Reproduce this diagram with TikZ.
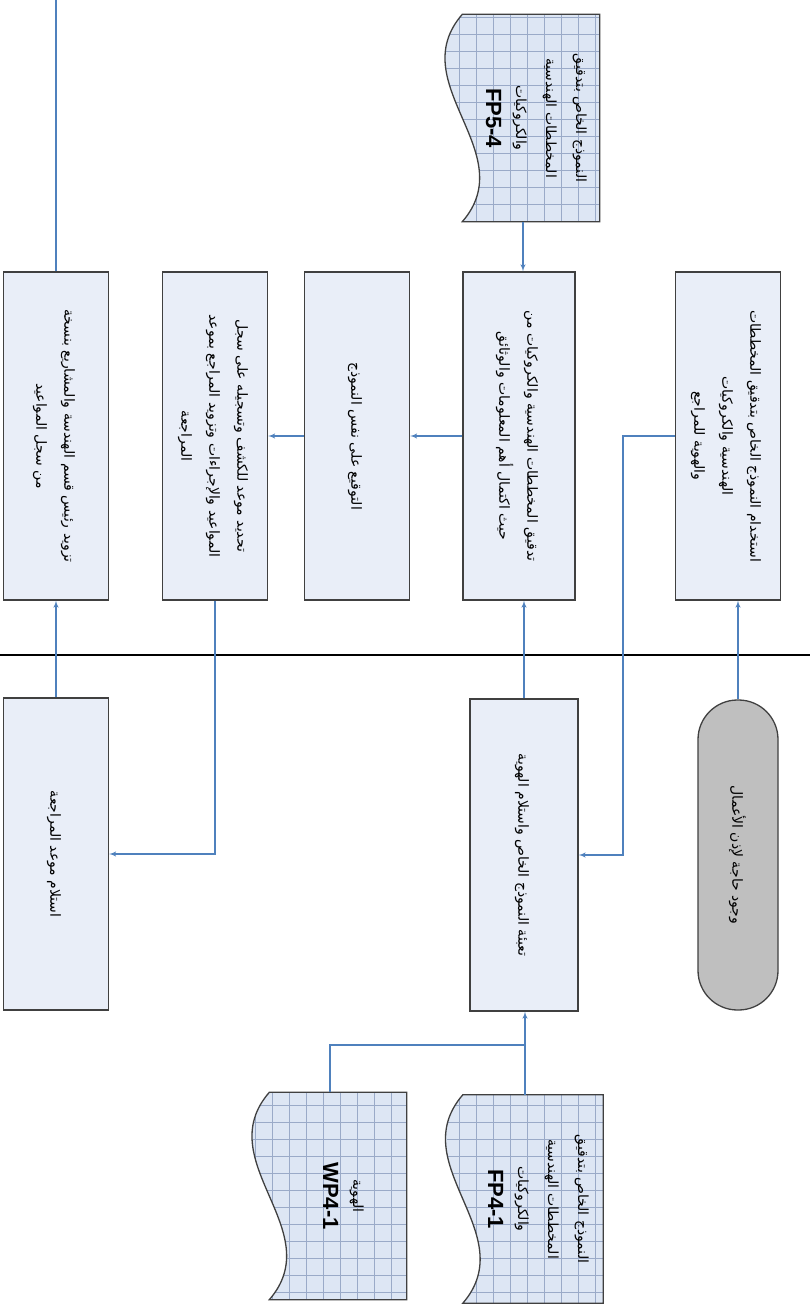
\documentclass[tikz,border=0pt]{standalone}
\usepackage{fontspec}
\usepackage{graphicx}
\usepackage{tikz}
\usetikzlibrary{arrows,calc}
\newfontfamily\arabicfont[Script=Arabic]{DejaVu Sans}
\newfontfamily\codefont{Liberation Sans}
\TeXXeTstate=1
\definecolor{linkblue}{HTML}{4F81BD}
\definecolor{boxfill}{HTML}{E9EEF8}
\definecolor{boxline}{HTML}{404040}
\definecolor{docfill}{HTML}{DDE6F4}
\definecolor{docgrid}{HTML}{9AAAC8}
\definecolor{termfill}{HTML}{BFBFBF}
\newcommand\ar[1]{\beginR #1\endR}
\newcommand\vlines[1]{\rotatebox{-90}{\begin{tabular}{@{}c@{}}#1\end{tabular}}}
\newcommand\code[1]{{\codefont\bfseries\fontsize{22}{26}\selectfont #1}}
% outline of a document symbol, wavy edge on the left
\newcommand\docpath[1]{([xshift=16pt]#1.north west) -- (#1.north east) -- (#1.south east) -- ([xshift=16pt]#1.south west) .. controls ([xshift=76pt]$(#1.south west)!0.333!(#1.north west)$) and ([xshift=-44pt]$(#1.south west)!0.667!(#1.north west)$) .. ([xshift=16pt]#1.north west) -- cycle}
\newcommand\docshape[1]{%
  \fill[docfill] \docpath{#1};
  \begin{scope}
    \clip \docpath{#1};
    \draw[docgrid,line width=0.5pt,step=17pt] (#1.south west) grid (#1.north east);
  \end{scope}
  \draw[boxline,line width=1.3pt] \docpath{#1};}

\begin{document}
\begin{tikzpicture}
[x=1pt,y=-1pt,>=latex',
procbox/.style={rectangle,draw=boxline,fill=boxfill,line width=1.3pt,inner sep=2pt,
  minimum width=105pt,minimum height=328pt,font=\arabicfont\fontsize{14}{28}\selectfont},
termbox/.style={rectangle,rounded corners=39.5pt,draw=boxline,fill=termfill,line width=1.3pt,
  minimum width=80pt,minimum height=310pt,font=\arabicfont\fontsize{14}{28}\selectfont},
docbox/.style={rectangle,inner sep=0pt,minimum width=153pt,minimum height=207pt},
doctext/.style={font=\arabicfont\fontsize{14}{30}\selectfont},
link/.style={draw=linkblue,line width=1.4pt},
sepline/.style={draw=black,line width=1.3pt}]
\useasboundingbox (0,0) rectangle (810,1313);

% upper half
\node[procbox] (tazwid) at (56,436) {\vlines{\ar{تزويد رئيس قسم الهندسة والمشاريع بنسخة}\\ \ar{من سجل المواعيد}}};
\node[procbox] (tahdid) at (215,436) {\vlines{\ar{تحديد موعد للكشف وتسجيله على سجل}\\ \ar{المواعيد والإجراءات وتزويد المراجع بموعد}\\ \ar{المراجعة}}};
\node[procbox] (tawqi) at (357,436) {\vlines{\ar{التوقيع على نفس النموذج}}};
\node[procbox,minimum width=112pt] (tadqiq) at (519,436) {\vlines{\ar{تدقيق المخططات الهندسية والكروكيات من}\\ \ar{حيث اكتمال أهم المعلومات والوثائق}}};
\node[procbox] (istikhdam) at (728,436) {\vlines{\ar{استخدام النموذج الخاص بتدقيق المخططات}\\ \ar{الهندسية والكروكيات}\\ \ar{والهوية للمراجع}}};

\node[docbox] (fpfive) at (523,118) {};
\docshape{fpfive}
\node[doctext] (fpfivetext) at ([xshift=14pt]fpfive.center) {\vlines{\ar{النموذج الخاص بتدقيق}\\ \ar{المخططات الهندسية}\\ \ar{والكروكيات}\\ \code{FP5-4}}};

% separator
\coordinate (sepleft) at (0,655);
\coordinate (sepright) at (810,655);
\draw[sepline] (sepleft) -- (sepright);

% lower half
\node[procbox,minimum height=312pt] (istilam) at (56,854) {\vlines{\ar{استلام موعد المراجعة}}};
\node[procbox,minimum width=108pt,minimum height=312pt] (tabia) at (524,855) {\vlines{\ar{تعبئة النموذج الخاص واستلام الهوية}}};
\node[termbox] (wujud) at (738,855) {\vlines{\ar{وجود حاجة لإذن الأعمال}}};

\node[docbox] (wpfour) at (330,1196) {};
\docshape{wpfour}
\node[doctext] (wpfourtext) at ([xshift=14pt]wpfour.center) {\vlines{\ar{الهوية}\\ \code{WP4-1}}};
\node[docbox,minimum width=156pt,minimum height=208pt] (fpfour) at (525,1199) {};
\docshape{fpfour}
\node[doctext] (fpfourtext) at ([xshift=14pt]fpfour.center) {\vlines{\ar{النموذج الخاص بتدقيق}\\ \ar{المخططات الهندسية}\\ \ar{والكروكيات}\\ \code{FP4-1}}};

% connectors
\coordinate (topend) at (56,0);
\coordinate (bendE) at (623,436);
\coordinate (joinWP) at (525,1045);
\draw[link] (tazwid.north) -- (topend);
\draw[link,->] (istilam.north) -- (tazwid.south);
\draw[link,->] (tahdid.south) |- (istilam.east);
\draw[link,->] (tawqi.west) -- (tahdid.east);
\draw[link,->] (tadqiq.west) -- (tawqi.east);
\draw[link,->] (fpfive.south) -- (fpfive.south |- tadqiq.north);
\draw[link,->] (tabia.north) -- (tabia.north |- tadqiq.south);
\draw[link,->] (istikhdam.west) -- (bendE) |- (tabia.east);
\draw[link,->] (wujud.north) -- (wujud.north |- istikhdam.south);
\draw[link,->] (fpfour.north) -- (fpfour.north |- tabia.south);
\draw[link] (wpfour.north) |- (joinWP);
\end{tikzpicture}
\end{document}
